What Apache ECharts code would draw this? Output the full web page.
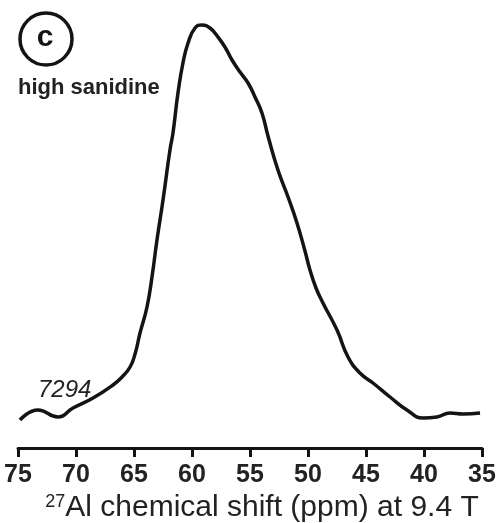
<!DOCTYPE html>
<html>
<head>
<meta charset="utf-8">
<script src="https://cdn.jsdelivr.net/npm/echarts@6/dist/echarts.min.js"></script>
<style>
  html, body { margin: 0; padding: 0; background: #fff; }
  #chart { width: 502px; height: 523px; }
</style>
</head>
<body>
<div id="chart"></div>
<script>
// 27Al MAS NMR spectrum of high sanidine (sample 7294)
const shiftPpm = [
  74.83, 73.28, 71.55, 70.26, 68.53, 66.81, 66.03, 65.34, 64.91, 64.48,
  63.88, 63.45, 63.02, 62.50, 61.90, 61.64, 61.21, 60.78, 60.34, 59.74,
  59.14, 58.45, 57.76, 57.16, 56.55, 55.86, 55.17, 54.57, 53.97, 53.45,
  52.59, 51.72, 50.95, 50.26, 49.83, 49.31, 48.71, 47.50, 46.55, 45.52,
  44.40, 42.93, 41.47, 40.09, 38.88, 37.76, 36.64, 35.17
];
const intensity = [
  28, 38, 31, 40, 50, 63, 71, 81, 94, 115,
  141, 171, 208, 248, 298, 315, 355, 385, 405, 420,
  423, 420, 411, 401, 388, 376, 365, 351, 335, 312,
  278, 251, 225, 197, 178, 160, 145, 118, 91, 75,
  65, 51, 38, 30, 31, 35, 34, 35
];
const tickValues = [75, 70, 65, 60, 55, 50, 45, 40, 35];
const panelLetter = 'c';
const sampleName = 'high sanidine';
const sampleId = '7294';

const chart = echarts.init(document.getElementById('chart'), null, { renderer: 'canvas' });
const ink = '#141414';
const font = '"Liberation Sans", Arial, sans-serif';

chart.setOption({
  animation: false,
  backgroundColor: '#fff',
  grid: { left: 18, right: 20, top: 20, bottom: 75, containLabel: false, outerBoundsMode: 'none' },
  xAxis: {
    type: 'value',
    inverse: true,
    min: 35,
    max: 75,
    interval: 5,
    axisLine: { lineStyle: { color: ink, width: 3 } },
    axisTick: { length: 9, lineStyle: { color: ink, width: 3 } },
    splitLine: { show: false },
    axisLabel: {
      margin: 15,
      fontFamily: font,
      fontSize: 25,
      fontWeight: 'bold',
      color: '#222',
      formatter: v => tickValues.includes(v) ? String(v) : ''
    },
    name: '{sup|27}{main|Al chemical shift (ppm) at 9.4 T}',
    nameLocation: 'middle',
    nameGap: 35,
    nameTextStyle: {
      padding: [0, 0, 0, 24],
      rich: {
        sup: { fontFamily: font, fontSize: 18, color: '#222', verticalAlign: 'top', lineHeight: 30 },
        main: { fontFamily: font, fontSize: 30, color: '#222', lineHeight: 30 }
      }
    }
  },
  yAxis: { type: 'value', min: 0, max: 428, show: false },
  series: [{
    type: 'line',
    data: shiftPpm.map((p, i) => [p, intensity[i]]),
    smooth: 0.5,
    showSymbol: false,
    lineStyle: { color: ink, width: 3.5 }
  }],
  graphic: [
    { type: 'circle', shape: { cx: 46, cy: 39, r: 26 },
      style: { fill: 'none', stroke: ink, lineWidth: 3.5 } },
    { type: 'text', x: 45, y: 38,
      style: { text: panelLetter, font: 'bold 30px ' + font, fill: ink,
               align: 'center', verticalAlign: 'middle' } },
    { type: 'text', x: 18, y: 88,
      style: { text: sampleName, font: 'bold 22px ' + font, fill: '#222',
               align: 'left', verticalAlign: 'middle' } },
    { type: 'text', x: 38, y: 390,
      style: { text: sampleId, font: 'italic 24px ' + font, fill: '#222',
               align: 'left', verticalAlign: 'middle' } }
  ]
});
</script>
</body>
</html>
